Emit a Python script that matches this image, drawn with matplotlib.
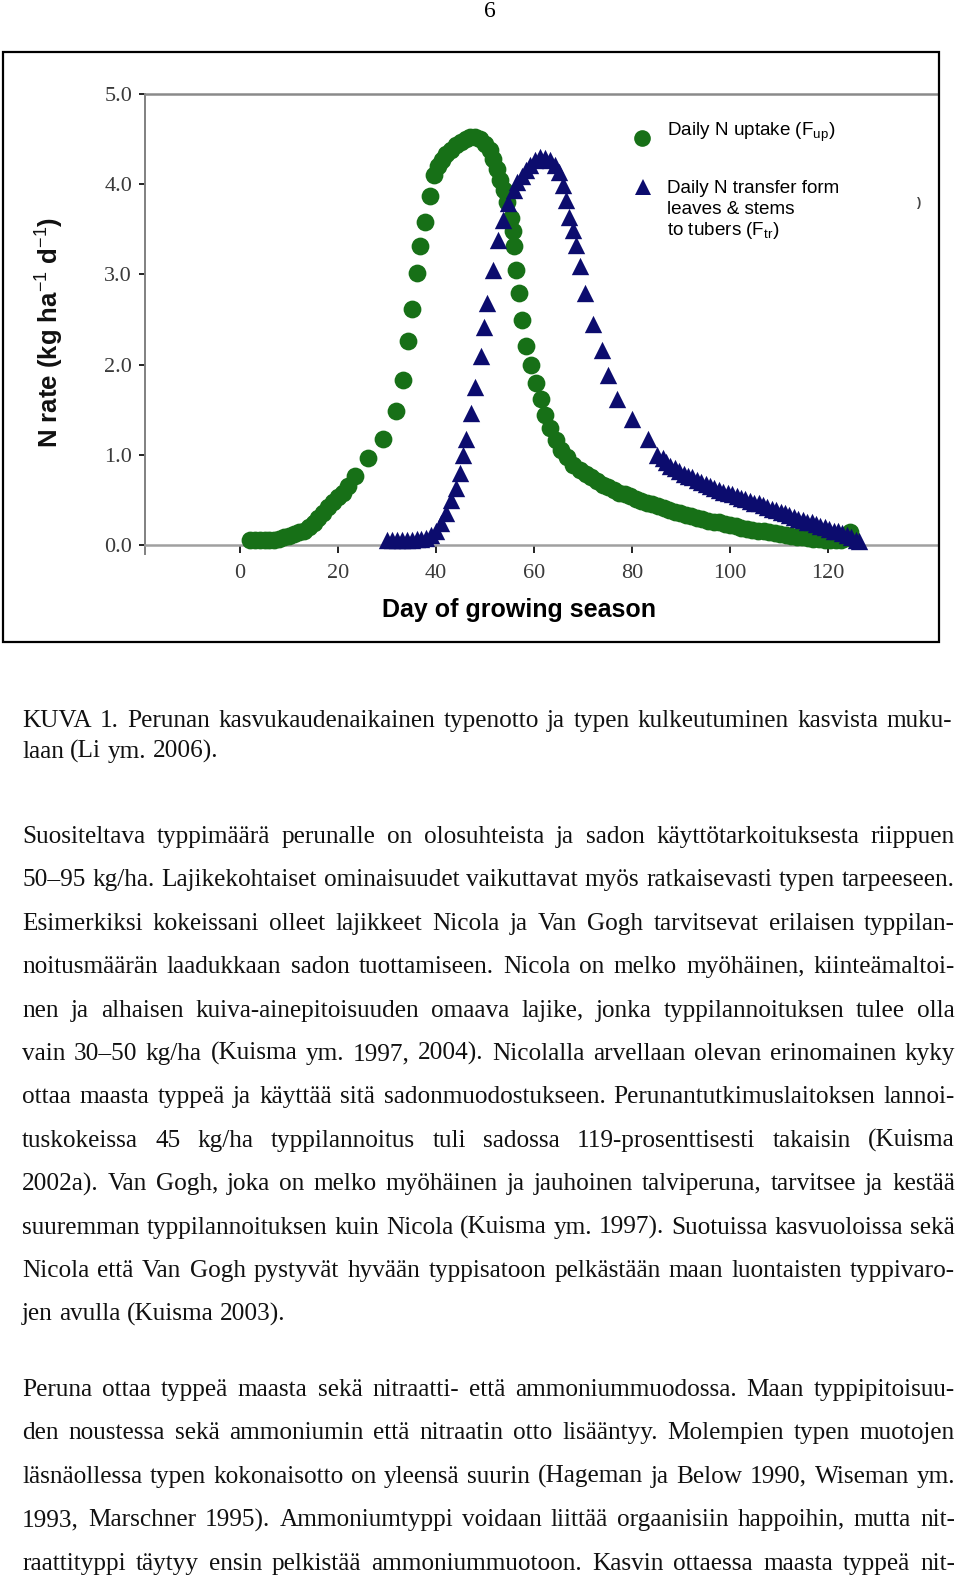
import matplotlib
matplotlib.use("Agg")
import matplotlib.pyplot as plt
from matplotlib.font_manager import FontProperties
from matplotlib.patches import Rectangle
from matplotlib.lines import Line2D

plt.rcParams["mathtext.fontset"] = "custom"
plt.rcParams["mathtext.rm"] = "Liberation Sans"
plt.rcParams["mathtext.it"] = "Liberation Sans:italic"
plt.rcParams["mathtext.bf"] = "Liberation Sans:bold"

W, H = 960, 1581

# Daily N uptake (F_up), green circles
uptake_day = [2, 3, 4, 5, 6, 7, 8, 9, 10, 11, 12, 13, 14, 15, 16, 17, 18, 19, 20, 21, 22,
              23.5, 26.2, 29.2, 31.9, 33.2, 34.3, 35.0, 36.0, 36.7, 37.7,
              38.8, 39.6, 40.3, 41.2, 42.1, 43.0, 44.0, 45.0, 46.0, 47.0,
              48.0, 49.0, 50.0, 50.9, 51.7, 52.4, 53.1, 53.8, 54.5, 55.2,
              55.6, 55.8, 56.2, 57.0, 57.6, 58.3, 59.4, 60.4, 61.3, 62.3,
              63.3, 64.4, 65.5, 66.7, 68.0, 69.4, 70.5, 71.6, 72.8, 74.0,
              75.1, 76.2, 77.3, 78.5, 79.6, 80.7, 81.9, 83.0, 84.1, 85.2,
              86.4, 87.5, 88.7, 89.8, 90.9, 92.0, 93.2, 94.3, 95.5, 96.6,
              97.7, 98.9, 100.0, 101.1, 102.2, 103.4, 104.5, 105.7, 106.8, 108.0,
              109.1, 110.2, 111.3, 112.5, 113.6, 114.7, 115.9, 117.0, 118.1, 119.3,
              120.4, 121.5, 122.6, 123.6, 124.5]
uptake_rate = [0.05, 0.05, 0.05, 0.05, 0.05, 0.06, 0.07, 0.09, 0.10, 0.12, 0.14, 0.16, 0.20, 0.24,
               0.30, 0.36, 0.42, 0.48, 0.53, 0.58, 0.65,
               0.76, 0.96, 1.17, 1.48, 1.83, 2.26, 2.62, 3.01, 3.32, 3.58,
               3.87, 4.10, 4.20, 4.27, 4.33, 4.38, 4.43, 4.47, 4.50, 4.52,
               4.52, 4.50, 4.45, 4.38, 4.28, 4.17, 4.05, 3.94, 3.80, 3.62,
               3.48, 3.31, 3.05, 2.79, 2.49, 2.21, 1.99, 1.80, 1.62, 1.44,
               1.30, 1.16, 1.05, 0.97, 0.89, 0.83, 0.79, 0.75, 0.71, 0.67,
               0.64, 0.61, 0.58, 0.56, 0.54, 0.51, 0.49, 0.47, 0.45, 0.43,
               0.41, 0.39, 0.37, 0.35, 0.33, 0.32, 0.30, 0.29, 0.27, 0.26,
               0.25, 0.23, 0.22, 0.21, 0.19, 0.18, 0.17, 0.16, 0.15, 0.14,
               0.13, 0.12, 0.11, 0.10, 0.09, 0.09, 0.08, 0.07, 0.07, 0.06,
               0.06, 0.06, 0.06, 0.08, 0.14]

# Daily N transfer to tubers (F_tr), navy triangles
transfer_day = [30, 31, 32, 33, 34, 35, 36, 37, 38, 39, 40, 41, 42, 43, 44,
                44.8, 45.5, 46.1, 47.2, 48.0, 49.2, 49.8, 50.4, 51.6, 52.6,
                53.6, 54.7, 55.8, 56.6, 57.5, 58.3, 59.2, 60.2, 61.2, 62.2,
                63.3, 64.2, 65.0, 65.8, 66.5, 67.2, 67.9, 68.6, 69.3, 70.4,
                72.1, 73.8, 75.0, 77.0, 79.9, 83.2, 85.0, 86.2, 87.0, 87.8,
                88.7, 89.6, 90.5, 91.4, 92.3, 93.2, 94.1, 95.0, 95.9,
                96.8, 97.7, 98.6, 99.5, 100.4, 101.3, 102.2, 103.1, 104.0, 104.9,
                105.8, 106.7, 107.6, 108.5, 109.4, 110.3, 111.2, 112.1, 113.0, 113.9,
                114.8, 115.7, 116.6, 117.5, 118.4, 119.3, 120.2, 121.1, 122.0, 122.9,
                123.8, 124.7, 125.6, 126.2]
transfer_rate = [0.05, 0.05, 0.05, 0.06, 0.06, 0.06, 0.07, 0.07, 0.08, 0.11, 0.16, 0.24, 0.35, 0.50, 0.63,
                 0.80, 1.00, 1.18, 1.46, 1.75, 2.10, 2.42, 2.68, 3.05, 3.38,
                 3.60, 3.79, 3.94, 4.02, 4.09, 4.16, 4.21, 4.27, 4.30, 4.29,
                 4.27, 4.21, 4.14, 3.99, 3.82, 3.64, 3.49, 3.33, 3.09, 2.79,
                 2.45, 2.16, 1.89, 1.62, 1.40, 1.17, 1.00, 0.96, 0.92, 0.88,
                 0.85, 0.82, 0.79, 0.77, 0.75, 0.72, 0.70, 0.68, 0.65,
                 0.63, 0.61, 0.59, 0.58, 0.56, 0.54, 0.52, 0.51, 0.49, 0.47,
                 0.46, 0.44, 0.42, 0.40, 0.39, 0.37, 0.35, 0.33, 0.31, 0.29,
                 0.28, 0.26, 0.25, 0.23, 0.21, 0.20, 0.18, 0.16, 0.15, 0.13,
                 0.11, 0.09, 0.06, 0.04]

x_ticks = [0, 20, 40, 60, 80, 100, 120]
y_ticks = [0.0, 1.0, 2.0, 3.0, 4.0, 5.0]

uptake_label = ["Daily N uptake (F$_{\\mathrm{up}}$)"]
transfer_label = ["Daily N transfer form", "leaves & stems", "to tubers (F$_{\\mathrm{tr}}$)"]
x_label = "Day of growing season"
y_label = "N rate (kg ha$^{\\mathrm{-1}}$ d$^{\\mathrm{-1}}$)"

caption_lines = [
    "KUVA 1. Perunan kasvukaudenaikainen typenotto ja typen kulkeutuminen kasvista muku-",
    "laan (Li ym. 2006).",
]
para1_lines = [
    "Suositeltava typpimäärä perunalle on olosuhteista ja sadon käyttötarkoituksesta riippuen",
    "50–95 kg/ha. Lajikekohtaiset ominaisuudet vaikuttavat myös ratkaisevasti typen tarpeeseen.",
    "Esimerkiksi kokeissani olleet lajikkeet Nicola ja Van Gogh tarvitsevat erilaisen typpilan-",
    "noitusmäärän laadukkaan sadon tuottamiseen. Nicola on melko myöhäinen, kiinteämaltoi-",
    "nen ja alhaisen kuiva-ainepitoisuuden omaava lajike, jonka typpilannoituksen tulee olla",
    "vain 30–50 kg/ha (Kuisma ym. 1997, 2004). Nicolalla arvellaan olevan erinomainen kyky",
    "ottaa maasta typpeä ja käyttää sitä sadonmuodostukseen. Perunantutkimuslaitoksen lannoi-",
    "tuskokeissa 45 kg/ha typpilannoitus tuli sadossa 119-prosenttisesti takaisin (Kuisma",
    "2002a). Van Gogh, joka on melko myöhäinen ja jauhoinen talviperuna, tarvitsee ja kestää",
    "suuremman typpilannoituksen kuin Nicola (Kuisma ym. 1997). Suotuissa kasvuoloissa sekä",
    "Nicola että Van Gogh pystyvät hyvään typpisatoon pelkästään maan luontaisten typpivaro-",
    "jen avulla (Kuisma 2003).",
]
para2_lines = [
    "Peruna ottaa typpeä maasta sekä nitraatti- että ammoniummuodossa. Maan typpipitoisuu-",
    "den noustessa sekä ammoniumin että nitraatin otto lisääntyy. Molempien typen muotojen",
    "läsnäollessa typen kokonaisotto on yleensä suurin (Hageman ja Below 1990, Wiseman ym.",
    "1993, Marschner 1995). Ammoniumtyppi voidaan liittää orgaanisiin happoihin, mutta nit-",
    "raattityppi täytyy ensin pelkistää ammoniummuotoon. Kasvin ottaessa maasta typpeä nit-",
]

GREEN = "#177017"
NAVY = "#0c0c6e"


def fy(y_px):
    return 1 - y_px / H


fig = plt.figure(figsize=(W / 100, H / 100), dpi=100)

# box round the figure
fig.patches.append(Rectangle((3 / W, fy(642)), 936 / W, 590 / H, transform=fig.transFigure,
                             fill=False, lw=1.6, ec="black"))

ax = fig.add_axes([145 / W, fy(554), (937 - 145) / W, (554 - 94) / H])
ax.scatter(uptake_day, uptake_rate, s=12.8 ** 2, marker="o", color=GREEN, lw=0, zorder=3)
ax.scatter(transfer_day, transfer_rate, s=12.5 ** 2, marker="^", color=NAVY, lw=0, zorder=3)

ax.set_xlim(-19.4, 142.2)
ax.set_ylim(-0.1, 5.0)
ax.spines["right"].set_visible(False)
ax.spines["bottom"].set_position(("data", 0))
ax.spines["top"].set_color("#8a8a8a")
ax.spines["top"].set_linewidth(1.8)
ax.spines["left"].set_color("#808080")
ax.spines["left"].set_linewidth(1.4)
ax.spines["bottom"].set_color("#a0a0a0")
ax.spines["bottom"].set_linewidth(1.8)

tick_font = FontProperties(family="Liberation Serif", size=16)
ax.set_xticks(x_ticks)
ax.set_xticklabels([str(t) for t in x_ticks], fontproperties=tick_font, color="#3a3a3a")
ax.set_yticks(y_ticks)
ax.set_yticklabels([f"{t:.1f}" for t in y_ticks], fontproperties=tick_font, color="#3a3a3a")
ax.tick_params(axis="y", direction="out", length=4.3, width=1.4, color="#222222", pad=5)
ax.tick_params(axis="x", direction="out", length=5.5, width=1.4, color="#222222", pad=8)

fig.text(50 / W, fy(332), y_label, rotation=90, ha="center", va="center",
         family="Liberation Sans", weight="bold", size=18.5, color="#111111")
fig.text(519 / W, fy(617), x_label, ha="center", va="baseline",
         family="Liberation Sans", weight="bold", size=18, color="black")

# legend keys and labels
fig.add_artist(Line2D([642 / W], [fy(138)], transform=fig.transFigure, marker="o",
                      ms=12, color=GREEN, mew=0, ls="none"))
fig.add_artist(Line2D([643 / W], [fy(187)], transform=fig.transFigure, marker="^",
                      ms=12, color=NAVY, mew=0, ls="none"))
for txt, yb in zip(uptake_label + transfer_label, [136, 193, 214, 235]):
    fig.text(667 / W, fy(yb), txt, ha="left", va="baseline",
             family="Liberation Sans", size=13.6, color="black")
fig.text(919 / W, fy(203), ")", ha="center", va="center",
         family="Liberation Sans", weight="bold", size=9, color="#444444")

# page number
fig.text(490 / W, fy(17), "6", ha="center", va="baseline",
         family="Liberation Serif", size=17, color="black")

# justified body text
renderer = fig.canvas.get_renderer()
LEFT, RIGHT = 22, 955
probe = FontProperties(family="Liberation Serif", size=20)


def width(s, fp):
    return renderer.get_text_width_height_descent(s, fp, ismath=False)[0]


natural = max(width(line, probe) for line in para1_lines + para2_lines)
body_font = FontProperties(family="Liberation Serif", size=20 * (RIGHT - LEFT) / natural)
space_w = width("a a", body_font) - width("aa", body_font)


def put_line(line, y_base, justify, right=RIGHT):
    words = line.split(" ")
    widths = [width(w, body_font) for w in words]
    gap = space_w
    if justify and len(words) > 1:
        gap = (right - LEFT - sum(widths)) / (len(words) - 1)
    x = LEFT
    for word, ww in zip(words, widths):
        fig.text(x / W, fy(y_base), word, ha="left", va="baseline",
                 fontproperties=body_font, color="#111111")
        x += ww + gap


put_line(caption_lines[0], 727, True, right=952)
put_line(caption_lines[1], 758, False)

for i, line in enumerate(para1_lines):
    put_line(line, 843 + 43.4 * i, i < len(para1_lines) - 1)
for i, line in enumerate(para2_lines):
    put_line(line, 1396 + 43.4 * i, True)

fig.savefig("out.png", dpi=100)
